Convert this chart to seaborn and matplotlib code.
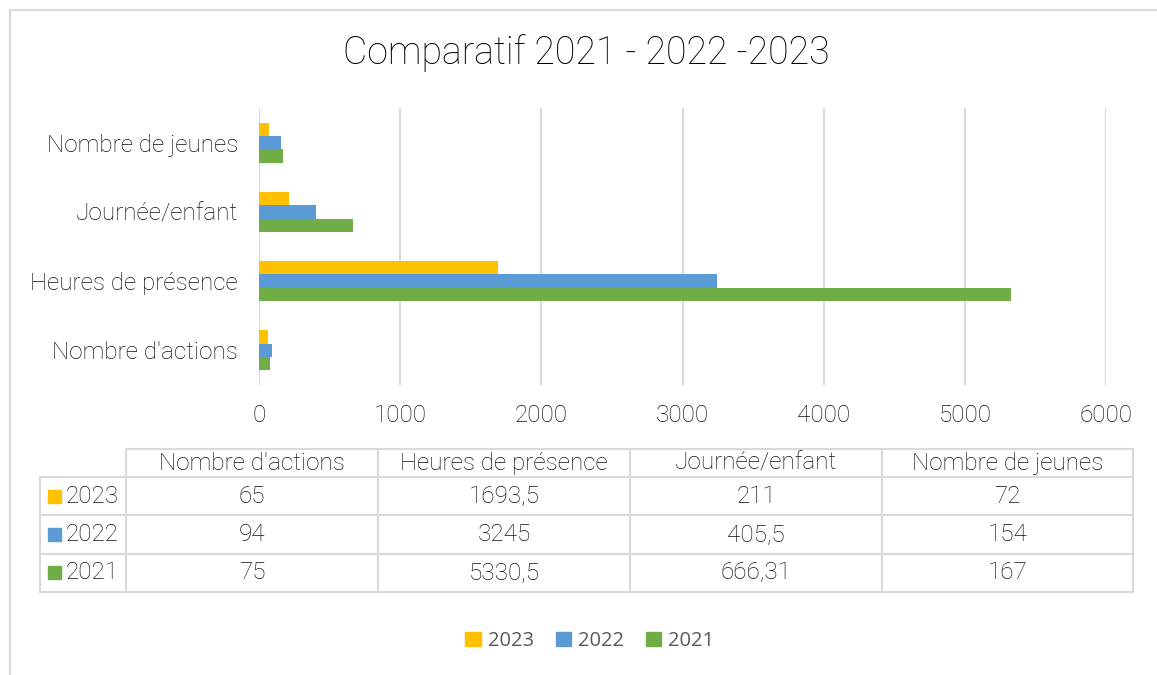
import numpy as np
import pandas as pd
import matplotlib.pyplot as plt
import matplotlib.patches as mpatches
from matplotlib.lines import Line2D
import seaborn as sns

# Data
categories = ["Nombre d'actions", "Heures de présence", "Journée/enfant", "Nombre de jeunes"]
years = ["2023", "2022", "2021"]
values_2023 = [65, 1693.5, 211, 72]
values_2022 = [94, 3245, 405.5, 154]
values_2021 = [75, 5330.5, 666.31, 167]
labels_2023 = ["65", "1693,5", "211", "72"]
labels_2022 = ["94", "3245", "405,5", "154"]
labels_2021 = ["75", "5330,5", "666,31", "167"]
colors = {"2023": "#FFC000", "2022": "#5B9BD5", "2021": "#70AD47"}

df = pd.DataFrame({
    "categorie": categories * 3,
    "annee": ["2023"] * 4 + ["2022"] * 4 + ["2021"] * 4,
    "valeur": values_2023 + values_2022 + values_2021,
})

sns.set_style("white")
plt.rcParams["font.family"] = ["Roboto", "DejaVu Sans"]

W, H = 1157, 675
fig = plt.figure(figsize=(W / 100, H / 100), dpi=100)

# chart area
ax = fig.add_axes([259 / W, 1 - 385 / H, 847 / W, 277 / H])
sns.barplot(data=df, y="categorie", x="valeur", hue="annee",
            order=categories[::-1], hue_order=years, palette=colors,
            orient="h", width=0.58, gap=0, saturation=1, ax=ax, legend=False,
            linewidth=0)
ax.set_xlim(0, 6000)
ax.set_ylim(3.5, -0.5)
ax.set_xticks(np.arange(0, 6001, 1000))
ax.set_xlabel("")
ax.set_ylabel("")
ax.grid(axis="x", color="#D9D9D9", linewidth=1.6)
ax.set_axisbelow(True)
sns.despine(ax=ax, left=True, bottom=True)
ax.tick_params(axis="both", length=0, labelsize=17.5, labelcolor="#111111")
ax.tick_params(axis="x", pad=14)
ax.tick_params(axis="y", pad=15)
for lab in ax.get_xticklabels() + ax.get_yticklabels():
    lab.set_fontweight("light")

fig.text(586 / W, 1 - 53 / H, "Comparatif 2021 - 2022 -2023", ha="center", va="center",
         fontsize=27, fontweight="light", color="#000000")

# data table
tax = fig.add_axes([40 / W, 1 - 592 / H, 1093 / W, 143 / H])
tax.axis("off")
rows = [[""] + categories,
        ["2023"] + labels_2023,
        ["2022"] + labels_2022,
        ["2021"] + labels_2021]
col_w = [86, 252, 252, 252, 251]
col_w = [c / sum(col_w) for c in col_w]
tab = tax.table(cellText=rows, colWidths=col_w, cellLoc="center", bbox=[0, 0, 1, 1])
tab.auto_set_font_size(False)
row_h = [28, 38, 38, 38]
tot = sum(row_h)
for (r, c), cell in tab.get_celld().items():
    cell.set_edgecolor("#D9D9D9")
    cell.set_linewidth(1.5)
    cell.set_height(row_h[r] / tot)
    txt = cell.get_text()
    txt.set_fontsize(17.5)
    txt.set_fontweight("light")
    txt.set_color("#111111")
    if r == 0 and c == 0:
        cell.visible_edges = ""
    if c == 0 and r > 0:
        cell._loc = "right"
        cell.PAD = 0.08
        txt.set_ha("right")
for i, y in enumerate(years):
    yc = 1 - (row_h[0] + row_h[1] * (i + 0.5)) / tot
    tax.add_patch(mpatches.Rectangle((8 / 1093, yc - 6.5 / 143), 13 / 1093, 13 / 143,
                                     transform=tax.transAxes, color=colors[y], clip_on=False))

# legend
handles = [mpatches.Patch(color=colors[y], label=y) for y in years]
leg = fig.legend(handles=handles, loc="center", bbox_to_anchor=(590 / W, 1 - 641 / H), ncol=3,
                 frameon=False, handlelength=0.75, handleheight=0.75,
                 handletextpad=0.35, columnspacing=1.1,
                 prop={"family": "Open Sans", "size": 14.5})
for t in leg.get_texts():
    t.set_color("#595959")

# outer frame
fig.add_artist(Line2D([10 / W, 10 / W], [0, 1 - 10 / H], color="#D9D9D9", linewidth=1.5))
fig.add_artist(Line2D([10 / W, 1], [1 - 10 / H, 1 - 10 / H], color="#D9D9D9", linewidth=1.5))

fig.savefig("out.png", dpi=100)
